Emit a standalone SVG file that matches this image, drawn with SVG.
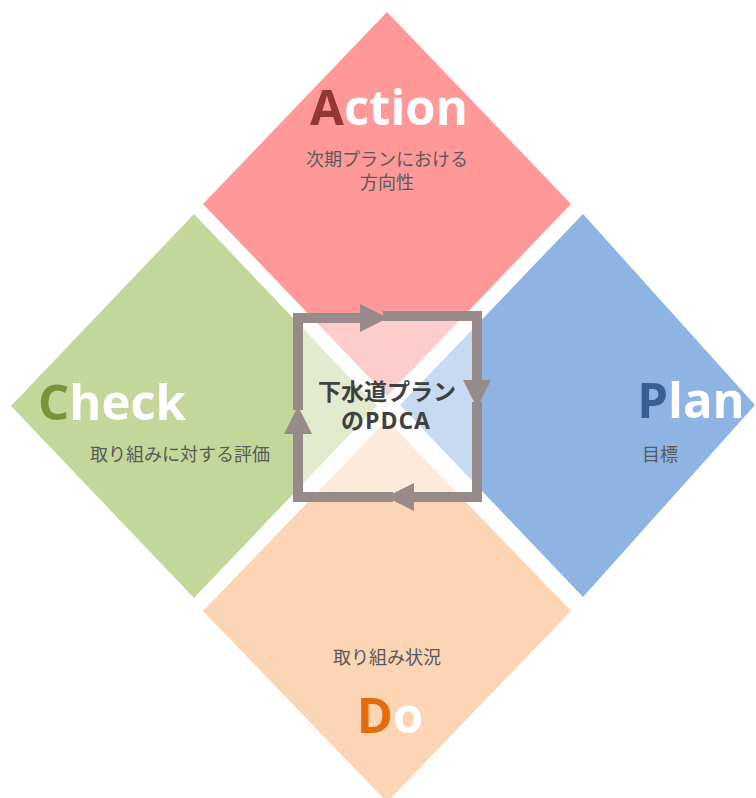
<svg xmlns="http://www.w3.org/2000/svg" width="756" height="798" viewBox="0 0 756 798">
<defs>
<style>
.big{font-family:"Open Sans","Noto Sans CJK JP",sans-serif;font-weight:bold;font-size:49px;fill:#ffffff;text-anchor:middle}
.sub{font-family:"Open Sans","Noto Sans CJK JP",sans-serif;font-size:18px;fill:#595959;text-anchor:middle}
.ctr{font-family:"Open Sans","Noto Sans CJK JP",sans-serif;font-weight:bold;font-size:23px;fill:#404040;text-anchor:middle}
.conn{fill:none;stroke:#968a8a;stroke-width:10;stroke-linejoin:miter;stroke-linecap:square}
</style>
<marker id="ah" markerUnits="userSpaceOnUse" markerWidth="28" markerHeight="28" viewBox="0 0 27 27" refX="0" refY="13.5" orient="auto">
<path d="M0,0 L27,13.5 L0,27 Z" fill="#968a8a"/>
</marker>
</defs>
<rect width="756" height="798" fill="#ffffff"/>
<g id="action">
<polygon points="387,12 571,204 387,396 203,204" fill="#ff9999"/>
<text class="big" x="389" y="125"><tspan fill="#943634">A</tspan>ction</text>
<text class="sub" x="387" y="166">次期プランにおける</text>
<text class="sub" x="387" y="189">方向性</text>
</g>
<g id="check">
<polygon points="11,406 194,214 377,406 194,598" fill="#c4d79b"/>
<text class="big" x="112" y="420"><tspan fill="#77933c">C</tspan>heck</text>
<text class="sub" x="180" y="461">取り組みに対する評価</text>
</g>
<g id="plan">
<polygon points="583,214 755,405 583,597 400,405" fill="#8db4e2"/>
<text class="big" x="691" y="418"><tspan fill="#366092">P</tspan>lan</text>
<text class="sub" x="660" y="461">目標</text>
</g>
<g id="do">
<polygon points="387,420 571,611 387,802 203,611" fill="#fcd5b4"/>
<text class="sub" x="387" y="664">取り組み状況</text>
<text class="big" x="390" y="733"><tspan fill="#e46c0a">D</tspan>o</text>
</g>
<g id="center">
<rect x="298" y="316" width="179" height="181" fill="#ffffff" fill-opacity="0.5"/>
</g>
<g id="connectors">
<path class="conn" d="M298,405 L298,318 L360,318" marker-end="url(#ah)"/>
<path class="conn" d="M388,316 L477,316 L477,380" marker-end="url(#ah)"/>
<path class="conn" d="M477,407 L477,497 L414,497" marker-end="url(#ah)"/>
<path class="conn" d="M388,497 L298,497 L298,434" marker-end="url(#ah)"/>
</g>
<g id="center-label">
<text class="ctr" x="387" y="400">下水道プラン</text>
<text class="ctr" x="386" y="429" letter-spacing="1">のPDCA</text>
</g>
</svg>
